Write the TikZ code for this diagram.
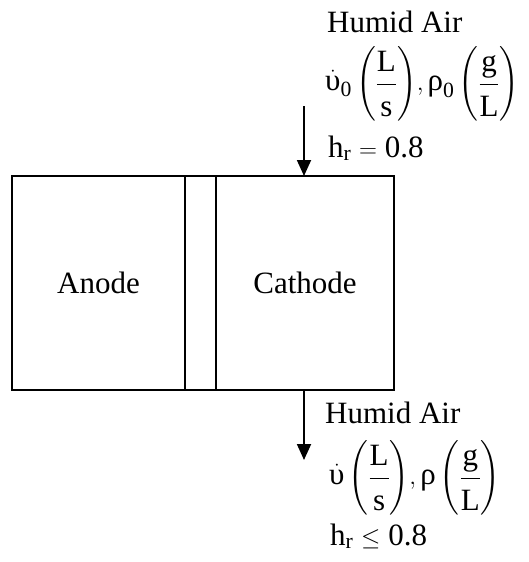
\documentclass[tikz,border=0pt]{standalone}
\usepackage{amsmath}
\usepackage{fontspec}
\setmainfont{Liberation Serif}
\usepackage{tikz}
\usetikzlibrary{arrows.meta, positioning, calc}

\begin{document}
\begin{tikzpicture}[x=1pt, y=-1pt,
    font=\fontsize{31}{37}\selectfont,
    cellbox/.style={draw, line width=1.8pt, minimum height=214pt, inner sep=0pt, outer sep=0pt},
    flow/.style={line width=1.8pt, -{Triangle[width=14pt, length=16pt]}},
    flowtext/.style={anchor=base west, inner sep=0pt}]
  \useasboundingbox (0,0) rectangle (528,562);
  \node[cellbox, minimum width=173pt] (anode) at (98.5,283) {Anode};
  \node[cellbox, minimum width=31pt, right=0pt of anode] (membrane) {};
  \node[cellbox, minimum width=178pt, right=0pt of membrane] (cathode) {Cathode};
  \coordinate (inlet) at (304,106);
  \coordinate (outlet) at (304,460);
  \draw[flow] (inlet) -- (inlet |- cathode.north);
  \draw[flow] (outlet |- cathode.south) -- (outlet);
  % inlet conditions
  \node[flowtext] (inname) at (327,32) {Humid Air};
  \node[anchor=west, inner sep=0pt] (inrate) at (325,84) {$\dot{\text{υ}}_{\text{0}}\left(\dfrac{\text{L}\rule[-9pt]{0pt}{9pt}}{\text{s}\rule{0pt}{29pt}}\right)\!,\text{ρ}_{\text{0}}\left(\dfrac{\text{g}\rule[-9pt]{0pt}{9pt}}{\text{L}\rule{0pt}{29pt}}\right)$};
  \node[flowtext] (inhum) at (328,157) {h$_{\text{r}}$ $=$ 0.8};
  % outlet conditions
  \node[flowtext] (outname) at (325,423) {Humid Air};
  \node[anchor=west, inner sep=0pt] (outrate) at (329,478) {$\dot{\text{υ}}\left(\dfrac{\text{L}\rule[-9pt]{0pt}{9pt}}{\text{s}\rule{0pt}{29pt}}\right)\!,\text{ρ}\left(\dfrac{\text{g}\rule[-9pt]{0pt}{9pt}}{\text{L}\rule{0pt}{29pt}}\right)$};
  \node[flowtext] (outhum) at (330,545) {h$_{\text{r}}$ $\le$ 0.8};
\end{tikzpicture}
\end{document}
